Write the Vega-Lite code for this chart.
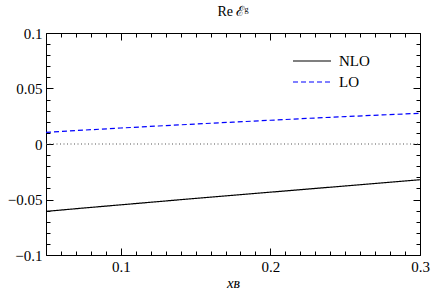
{
  "$schema": "https://vega.github.io/schema/vega-lite/v6.json",
  "width": 374,
  "height": 222,
  "autosize": "none",
  "padding": {"left": 46, "top": 33, "right": 22, "bottom": 35},
  "background": "white",
  "title": {"text": "Re ℰᵍ", "font": "Liberation Serif", "fontSize": 14, "fontWeight": "normal", "color": "black", "offset": 7},
  "config": {
    "view": {"stroke": "black", "strokeWidth": 1},
    "legend": {"padding": 0}
  },
  "data": {"values": [
    {"x": 0.05, "y": -0.0607, "series": "NLO"},
    {"x": 0.075, "y": -0.0577, "series": "NLO"},
    {"x": 0.1, "y": -0.0548, "series": "NLO"},
    {"x": 0.125, "y": -0.0519, "series": "NLO"},
    {"x": 0.15, "y": -0.049, "series": "NLO"},
    {"x": 0.175, "y": -0.0462, "series": "NLO"},
    {"x": 0.2, "y": -0.0434, "series": "NLO"},
    {"x": 0.225, "y": -0.0406, "series": "NLO"},
    {"x": 0.25, "y": -0.0378, "series": "NLO"},
    {"x": 0.275, "y": -0.035, "series": "NLO"},
    {"x": 0.3, "y": -0.0322, "series": "NLO"},
    {"x": 0.05, "y": 0.0105, "series": "LO"},
    {"x": 0.075, "y": 0.0125, "series": "LO"},
    {"x": 0.1, "y": 0.0144, "series": "LO"},
    {"x": 0.125, "y": 0.0162, "series": "LO"},
    {"x": 0.15, "y": 0.018, "series": "LO"},
    {"x": 0.175, "y": 0.0197, "series": "LO"},
    {"x": 0.2, "y": 0.0214, "series": "LO"},
    {"x": 0.225, "y": 0.0231, "series": "LO"},
    {"x": 0.25, "y": 0.0247, "series": "LO"},
    {"x": 0.275, "y": 0.0262, "series": "LO"},
    {"x": 0.3, "y": 0.0277, "series": "LO"},
    {"x": 0.05, "y": 0, "series": "zero"},
    {"x": 0.3, "y": 0, "series": "zero"}
  ]},
  "mark": {"type": "line"},
  "encoding": {
    "x": {
      "field": "x", "type": "quantitative",
      "scale": {"domain": [0.05, 0.3], "nice": false, "zero": false},
      "axis": {
        "orient": "bottom",
        "title": "xʙ",
        "titleFont": "Liberation Serif",
        "titleFontStyle": "italic",
        "titleFontWeight": "normal",
        "titleFontSize": 15,
        "titleColor": "black",
        "titlePadding": 1,
        "tickCount": 25,
        "labelExpr": "abs(datum.value*10 - round(datum.value*10)) < 0.001 ? format(datum.value, '.1f') : ''",
        "domain": false,
        "ticks": false,
        "grid": true,
        "gridColor": "black",
        "gridOpacity": 1,
        "gridWidth": 1,
        "gridDash": {"condition": {"test": "abs(datum.value*10 - round(datum.value*10)) < 0.001", "value": [7, 208, 7]}, "value": [4, 214, 4]},
        "labelFont": "Liberation Serif",
        "labelFontSize": 15,
        "labelColor": "black",
        "labelPadding": 4,
        "labelFlush": false,
        "labelOverlap": false
      }
    },
    "y": {
      "field": "y", "type": "quantitative",
      "scale": {"domain": [-0.1, 0.1], "nice": false, "zero": false},
      "axis": {
        "orient": "left",
        "title": null,
        "tickCount": 20,
        "labelExpr": "abs(datum.value*20 - round(datum.value*20)) < 0.001 ? format(datum.value, '~g') : ''",
        "domain": false,
        "ticks": false,
        "grid": true,
        "gridColor": "black",
        "gridOpacity": 1,
        "gridWidth": 1,
        "gridDash": {"condition": {"test": "abs(datum.value*20 - round(datum.value*20)) < 0.001", "value": [7, 360, 7]}, "value": [4, 366, 4]},
        "labelFont": "Liberation Serif",
        "labelFontSize": 15,
        "labelColor": "black",
        "labelPadding": 4,
        "labelFlush": false,
        "labelOverlap": false
      }
    },
    "color": {
      "field": "series", "type": "nominal",
      "scale": {"domain": ["NLO", "LO", "zero"], "range": ["black", "blue", "#555555"]},
      "legend": {"title": null, "values": ["NLO", "LO"], "orient": "none", "legendX": 246, "legendY": 21, "symbolType": "stroke", "symbolSize": 1444, "symbolStrokeWidth": 1.2, "clipHeight": 14, "rowPadding": 6, "labelFont": "Liberation Serif", "labelFontSize": 15, "labelColor": "black", "labelOffset": 7}
    },
    "strokeDash": {
      "field": "series", "type": "nominal",
      "scale": {"domain": ["NLO", "LO", "zero"], "range": [[1, 0], [5, 3], [1, 2.5]]},
      "legend": {"title": null, "values": ["NLO", "LO"], "orient": "none", "legendX": 246, "legendY": 21, "symbolType": "stroke", "symbolSize": 1444, "symbolStrokeWidth": 1.2, "clipHeight": 14, "rowPadding": 6, "labelFont": "Liberation Serif", "labelFontSize": 15, "labelColor": "black", "labelOffset": 7}
    },
    "strokeWidth": {
      "field": "series", "type": "nominal",
      "scale": {"domain": ["NLO", "LO", "zero"], "range": [1.2, 1.2, 1]},
      "legend": null
    }
  }
}
